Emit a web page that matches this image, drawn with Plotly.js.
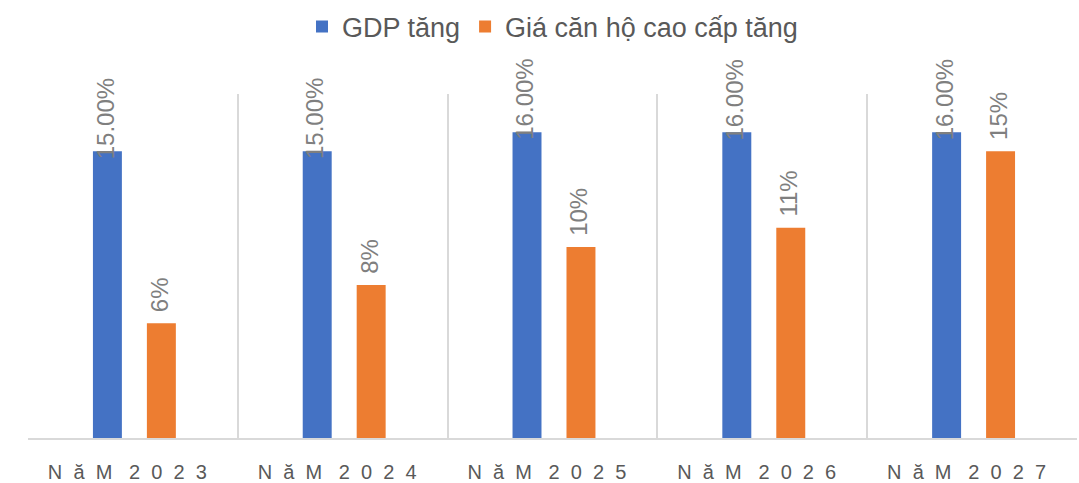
<!DOCTYPE html>
<html>
<head>
<meta charset="utf-8">
<script src="https://cdn.plot.ly/plotly-3.0.1.min.js"></script>
<style>html,body{margin:0;padding:0;background:#fff;}#chart{width:1079px;height:483px;}</style>
</head>
<body>
<div id="chart"></div>
<script>
const categories = ["NăM 2023", "NăM 2024", "NăM 2025", "NăM 2026", "NăM 2027"];
const gdpValues = [0.15, 0.15, 0.16, 0.16, 0.16];
const priceValues = [0.06, 0.08, 0.10, 0.11, 0.15];
const gdpName = "GDP tăng";
const priceName = "Giá căn hộ cao cấp tăng";

const NB = "\u00A0";
const spaced = s => {
  const [a, b] = s.split(" ");
  return a.split("").join(NB + NB) + NB.repeat(3) + b.split("").join(NB + NB) + NB.repeat(2);
};
const xIdx = categories.map((_, i) => i);

const FONT = "Liberation Sans, Arial, sans-serif";
const barW = 0.138, gdpOff = -0.1905, priceOff = 0.0667;

const traces = [
  {type: "bar", name: gdpName, x: xIdx, y: gdpValues, width: barW, offset: gdpOff,
   marker: {color: "#4472c4"}, hoverinfo: "skip"},
  {type: "bar", name: priceName, x: xIdx, y: priceValues, width: barW, offset: priceOff,
   marker: {color: "#ed7d31"}, hoverinfo: "skip"}
];

const annotations = [];
gdpValues.forEach((v, i) => annotations.push({
  x: i + gdpOff + barW / 2, y: v, xref: "x", yref: "y",
  text: (v * 100).toFixed(2) + "%", textangle: -90, showarrow: false,
  xanchor: "center", yanchor: "bottom", yshift: -10, xshift: -2,
  font: {family: FONT, size: 24, color: "#7f7f7f"}
}));
priceValues.forEach((v, i) => annotations.push({
  x: i + priceOff + barW / 2, y: v, xref: "x", yref: "y",
  text: Math.round(v * 100) + "%", textangle: -90, showarrow: false,
  xanchor: "center", yanchor: "bottom", yshift: 9, xshift: -2,
  font: {family: FONT, size: 24, color: "#7f7f7f"}
}));

const layout = {
  width: 1079, height: 483,
  margin: {l: 28, r: 2, t: 94, b: 45},
  paper_bgcolor: "#fff", plot_bgcolor: "#fff",
  barmode: "overlay",
  showlegend: true,
  legend: {orientation: "h", x: 0.5, xanchor: "center", y: 1.195, yanchor: "middle",
           font: {family: FONT, size: 27, color: "#595959"},
           traceorder: "normal", itemwidth: 30},
  annotations: annotations,
  xaxis: {
    range: [-0.5, 4.5], tickvals: xIdx, ticktext: categories.map(spaced),
    showgrid: false, zeroline: false, ticks: "", ticklabelstandoff: 15,
    showline: true, linecolor: "#d9d9d9", linewidth: 2,
    tickfont: {family: FONT, size: 20, color: "#595959"},
    minor: {tick0: -0.5, dtick: 1, showgrid: true, gridcolor: "#d9d9d9", gridwidth: 2, ticks: ""}
  },
  yaxis: {range: [0, 0.18], visible: false, showgrid: false, zeroline: false}
};

Plotly.newPlot("chart", traces, layout, {displayModeBar: false, staticPlot: true});
</script>
</body>
</html>
